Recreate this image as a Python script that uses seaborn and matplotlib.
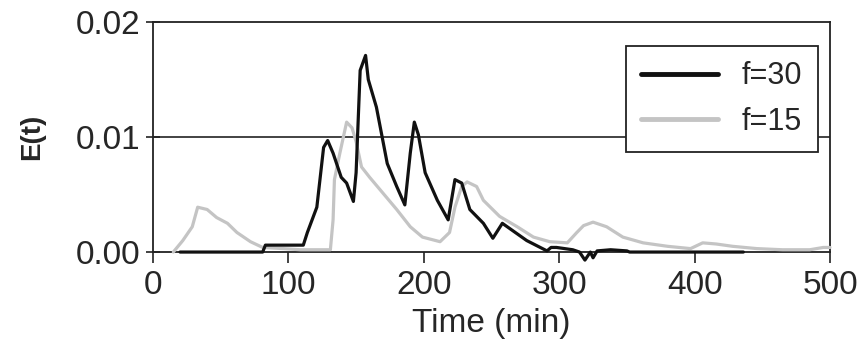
import matplotlib
matplotlib.use("Agg")
import matplotlib.pyplot as plt
import seaborn as sns
import pandas as pd

# f=30 series
t30 = [20, 81, 83, 90, 111, 114, 121, 126, 129, 133, 139, 143, 148, 150, 153, 157, 159, 165,
       173, 180, 186, 190, 193, 196, 201, 210, 218, 223, 228, 234, 244, 251, 258, 264, 276,
       286, 291, 294, 298, 310, 315, 319, 323, 325, 328, 338, 350, 352, 436]
e30 = [0, 0, 0.0006, 0.0006, 0.0006, 0.0017, 0.0039, 0.0091, 0.0097, 0.0086, 0.0065, 0.0060,
       0.0044, 0.0069, 0.0158, 0.0171, 0.0150, 0.0126, 0.0077, 0.0057, 0.0041, 0.0086, 0.0113,
       0.0102, 0.0069, 0.0045, 0.0028, 0.0063, 0.0060, 0.0037, 0.0025, 0.0012, 0.0025, 0.0020,
       0.0010, 0.0004, 0.0001, 0.0004, 0.0004, 0.0002, 0, -0.0007, 0, -0.0005, 0.0001, 0.0002,
       0.0001, 0, 0]

# f=15 series
t15 = [15, 22, 29, 33, 40, 47, 55, 62, 72, 81, 96, 109, 131, 133, 134, 138, 143, 147, 150, 154,
       160, 170, 180, 190, 199, 212, 219, 223, 228, 232, 239, 244, 256, 269, 281, 293, 306, 313,
       318, 325, 335, 347, 362, 380, 397, 406, 416, 428, 446, 465, 485, 495, 500]
e15 = [0, 0.0010, 0.0022, 0.0039, 0.0037, 0.0030, 0.0025, 0.0017, 0.0009, 0.0004, 0.0003, 0.0002,
       0.0002, 0.0028, 0.0063, 0.0086, 0.0113, 0.0108, 0.0096, 0.0074, 0.0065, 0.0051, 0.0037,
       0.0022, 0.0013, 0.0009, 0.0017, 0.0039, 0.0057, 0.0061, 0.0057, 0.0045, 0.0031, 0.0022,
       0.0013, 0.0009, 0.0008, 0.0017, 0.0023, 0.0026, 0.0022, 0.0013, 0.0008, 0.0005, 0.0003,
       0.0008, 0.0007, 0.0005, 0.0003, 0.0002, 0.0002, 0.0004, 0.0004]

xticks = [0, 100, 200, 300, 400, 500]
yticks = [0.00, 0.01, 0.02]
ytick_labels = ["0.00", "0.01", "0.02"]

sns.set_theme(style="white")
plt.rcParams['font.family'] = ['Liberation Sans', 'DejaVu Sans']

df30 = pd.DataFrame({"t": t30, "E": e30})
df15 = pd.DataFrame({"t": t15, "E": e15})

fig = plt.figure(figsize=(8.61, 3.56), dpi=100)
ax = fig.add_axes([0.1777, 0.292, 0.7863, 0.646])

sns.lineplot(data=df15, x="t", y="E", ax=ax, color="#c4c4c4", lw=2.3,
             sort=False, estimator=None, label="f=15")
sns.lineplot(data=df30, x="t", y="E", ax=ax, color="#111111", lw=2.3,
             sort=False, estimator=None, label="f=30")
for ln in ax.lines:
    ln.set_clip_on(False)
    ln.set_zorder(3)
ax.lines[1].set_zorder(4)

ax.axhline(0.01, color="#222222", lw=1.2, zorder=1)

ax.set_xlim(0, 500)
ax.set_ylim(0, 0.02)
ax.set_xticks(xticks)
ax.set_yticks(yticks)
ax.set_yticklabels(ytick_labels)
ax.tick_params(axis="x", direction="out", length=8, width=1.2, labelsize=24, color="#222222", pad=5)
ax.tick_params(axis="y", direction="inout", length=10, width=1.2, labelsize=24, color="#222222", pad=4)
ax.tick_params(bottom=True, left=True)
for s in ax.spines.values():
    s.set_color("#222222")
    s.set_linewidth(1.3)

ax.set_xlabel("Time (min)", fontsize=24, labelpad=5)
ax.set_ylabel("E(t)", fontsize=20, fontweight="bold", labelpad=22)

handles, labels = ax.get_legend_handles_labels()
order = [labels.index("f=30"), labels.index("f=15")]
leg = ax.legend([handles[i] for i in order], [labels[i] for i in order],
                loc="upper right", bbox_to_anchor=(0.982, 0.896), borderaxespad=0,
                fontsize=22, frameon=True, fancybox=False, framealpha=1, edgecolor="#222222",
                handlelength=2.5, borderpad=0.5, labelspacing=0.5, handletextpad=0.8)
leg.get_frame().set_linewidth(1.3)
leg.set_zorder(5)
for h in leg.get_lines():
    h.set_linewidth(3.5)

fig.savefig("out.png", dpi=100)
